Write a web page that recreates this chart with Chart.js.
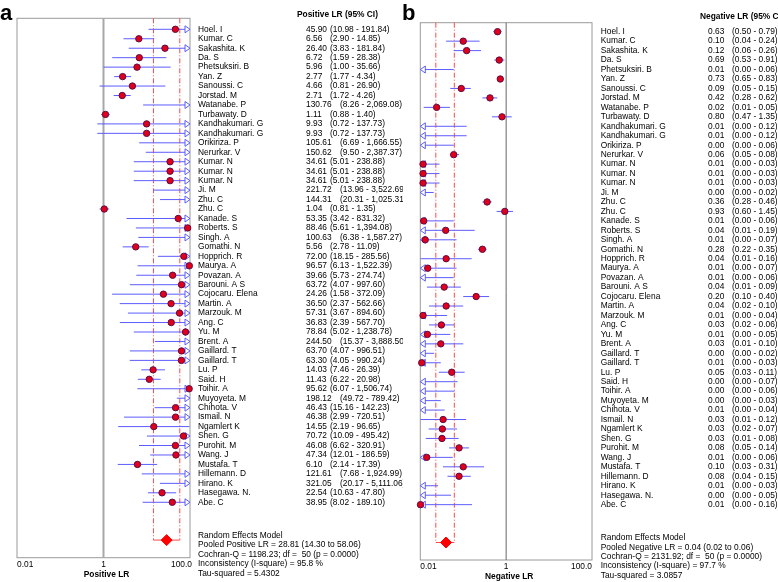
<!DOCTYPE html>
<html>
<head>
<meta charset="utf-8">
<script src="https://cdn.jsdelivr.net/npm/chart.js@4.4.1/dist/chart.umd.min.js"></script>
<style>
  html, body { margin: 0; padding: 0; background: #fff; }
  #wrap { position: relative; width: 778px; height: 582px; overflow: hidden; }
  #boxA { position: absolute; left: 0; top: 0; width: 403px; height: 582px; }
  #boxB { position: absolute; left: 403px; top: 0; width: 375px; height: 582px; background: #fff; }
</style>
</head>
<body>
<div id="wrap">
  <div id="boxA"><canvas id="chartA" width="403" height="582"></canvas></div>
  <div id="boxB"><canvas id="chartB" width="375" height="582"></canvas></div>
</div>
<script>
// Studies (same order in both panels)
const studies = ['Hoel. I', 'Kumar. C', 'Sakashita. K', 'Da. S', 'Phetsuksiri. B', 'Yan. Z', 'Sanoussi. C', 'Jorstad. M',
  'Watanabe. P', 'Turbawaty. D', 'Kandhakumari. G', 'Kandhakumari. G', 'Orikiriza. P', 'Nerurkar. V', 'Kumar. N',
  'Kumar. N', 'Kumar. N', 'Ji. M', 'Zhu. C', 'Zhu. C', 'Kanade. S', 'Roberts. S', 'Singh. A', 'Gomathi. N',
  'Hopprich. R', 'Maurya. A', 'Povazan. A', 'Barouni. A S', 'Cojocaru. Elena', 'Martin. A', 'Marzouk. M', 'Ang. C',
  'Yu. M', 'Brent. A', 'Gaillard. T', 'Gaillard. T', 'Lu. P', 'Said. H', 'Toihir. A', 'Muyoyeta. M', 'Chihota. V',
  'Ismail. N', 'Ngamlert K', 'Shen. G', 'Purohit. M', 'Wang. J', 'Mustafa. T', 'Hillemann. D', 'Hirano. K',
  'Hasegawa. N.', 'Abe. C'];

// Positive LR
const posLR = [45.90, 6.56, 26.40, 6.72, 5.96, 2.77, 4.66, 2.71, 130.76, 1.11, 9.93, 9.93, 105.61, 150.62, 34.61,
  34.61, 34.61, 221.72, 144.31, 1.04, 53.35, 88.46, 100.63, 5.56, 72.00, 96.57, 39.66, 63.72, 24.26, 36.50, 57.31,
  36.83, 78.84, 244.50, 63.70, 63.30, 14.03, 11.43, 95.62, 198.12, 46.43, 46.38, 14.55, 70.72, 46.08, 47.34, 6.10,
  121.61, 321.05, 22.54, 38.95];
const posLo = [10.98, 2.90, 3.83, 1.59, 1.00, 1.77, 0.81, 1.72, 8.26, 0.88, 0.72, 0.72, 6.69, 9.50, 5.01,
  5.01, 5.01, 13.96, 20.31, 0.81, 3.42, 5.61, 6.38, 2.78, 18.15, 6.13, 5.73, 4.07, 1.58, 2.37, 3.67,
  2.39, 5.02, 15.37, 4.07, 4.05, 7.46, 6.22, 6.07, 49.72, 15.16, 2.99, 2.19, 10.09, 6.62, 12.01, 2.14,
  7.68, 20.17, 10.63, 8.02];
const posHi = [191.84, 14.85, 181.84, 28.38, 35.66, 4.34, 26.90, 4.26, 2069.08, 1.40, 137.73, 137.73, 1666.55, 2387.37, 238.88,
  238.88, 238.88, 3522.69, 1025.31, 1.35, 831.32, 1394.08, 1587.27, 11.09, 285.56, 1522.39, 274.74, 997.60, 372.09, 562.66, 894.60,
  567.70, 1238.78, 3888.50, 996.51, 990.24, 26.39, 20.98, 1506.74, 789.42, 142.23, 720.51, 96.65, 495.42, 320.91, 186.59, 17.39,
  1924.99, 5111.06, 47.80, 189.10];
const posPooled = [28.81, 14.30, 58.06];
const posStats = ['Cochran-Q = 1198.23; df =  50 (p = 0.0000)', 'Inconsistency (I-square) = 95.8 %', 'Tau-squared = 5.4302'];

// Negative LR
const negLR = [0.63, 0.10, 0.12, 0.69, 0.0096, 0.73, 0.09, 0.42, 0.024, 0.80, 0.008, 0.008, 0.003, 0.06, 0.0116,
  0.0116, 0.0116, 0.003, 0.36, 0.93, 0.012, 0.039, 0.013, 0.28, 0.040, 0.0149, 0.009, 0.036, 0.20, 0.040, 0.0116,
  0.031, 0.0146, 0.030, 0.004, 0.0108, 0.054, 0.003, 0.003, 0.002, 0.008, 0.034, 0.0326, 0.032, 0.080, 0.0141, 0.10,
  0.08, 0.008, 0.004, 0.0101];
const negLo = [0.50, 0.04, 0.06, 0.53, 0.002, 0.65, 0.05, 0.28, 0.012, 0.47, 0.002, 0.002, 0.001, 0.05, 0.002,
  0.002, 0.002, 0.001, 0.28, 0.60, 0.002, 0.0096, 0.002, 0.22, 0.0101, 0.002, 0.002, 0.0143, 0.10, 0.016, 0.002,
  0.016, 0.002, 0.0096, 0.001, 0.002, 0.027, 0.001, 0.001, 0.001, 0.002, 0.0101, 0.0157, 0.0134, 0.047, 0.002, 0.0338,
  0.043, 0.002, 0.001, 0.002];
const negHi = [0.79, 0.24, 0.26, 0.91, 0.06, 0.83, 0.15, 0.62, 0.049, 1.35, 0.12, 0.12, 0.06, 0.08, 0.028,
  0.028, 0.028, 0.0205, 0.46, 1.45, 0.06, 0.185, 0.07, 0.35, 0.157, 0.07, 0.06, 0.088, 0.40, 0.10, 0.042,
  0.061, 0.05, 0.10, 0.021, 0.03, 0.108, 0.074, 0.063, 0.03, 0.037, 0.117, 0.072, 0.078, 0.136, 0.057, 0.305,
  0.15, 0.026, 0.052, 0.16];
const negPooled = [0.0398, 0.023, 0.062];
const negStats = ['Cochran-Q = 2131.92; df =  50 (p = 0.0000)', 'Inconsistency (I-square) = 97.7 %', 'Tau-squared = 3.0857'];

// Axis
const xTicks = [0.01, 1, 100];
const xTickLabels = ['0.01', '1', '100.0'];

const POOLED_ROW = 54;
const FONT = '"Liberation Sans", Arial, sans-serif';
const TXT = '8.4px ';
const LINE_BLUE = '#5c5cff';

function fmt(v) {
  return v.toLocaleString('en-US', { minimumFractionDigits: 2, maximumFractionDigits: 2 });
}

function forestPlugin(p) {
  return {
    id: 'forest',
    beforeDatasetsDraw(chart) {
      const { ctx, chartArea: a, scales: { x, y } } = chart;
      ctx.save();
      // frame
      ctx.strokeStyle = '#9a9a9a';
      ctx.lineWidth = 1;
      ctx.strokeRect(a.left, a.top, a.right - a.left, a.bottom - a.top);
      // line of no effect
      const x1 = x.getPixelForValue(1);
      ctx.strokeStyle = p.nullColor;
      ctx.lineWidth = p.nullWidth;
      ctx.beginPath(); ctx.moveTo(x1, a.top); ctx.lineTo(x1, a.bottom); ctx.stroke();
      // pooled CI bracket
      const py = y.getPixelForValue(POOLED_ROW);
      const pl = x.getPixelForValue(p.pooled[1]), ph = x.getPixelForValue(p.pooled[2]);
      ctx.strokeStyle = '#ff4a4a';
      ctx.lineWidth = 1;
      ctx.setLineDash([5, 2, 1, 2]);
      ctx.beginPath();
      ctx.moveTo(pl, a.top); ctx.lineTo(pl, py);
      ctx.moveTo(ph, a.top); ctx.lineTo(ph, py);
      ctx.stroke();
      ctx.setLineDash([]);
      ctx.beginPath(); ctx.moveTo(pl, py); ctx.lineTo(ph, py); ctx.stroke();
      // study CIs
      ctx.strokeStyle = LINE_BLUE;
      ctx.lineWidth = 1;
      p.lo.forEach((lo, i) => {
        const hi = p.hi[i];
        const yy = y.getPixelForValue(i);
        const offLeft = lo < x.min, offRight = hi > x.max;
        const x0 = offLeft ? a.left + 5 : x.getPixelForValue(lo);
        const x2 = offRight ? a.right - 5 : x.getPixelForValue(hi);
        ctx.beginPath(); ctx.moveTo(x0, yy); ctx.lineTo(x2, yy); ctx.stroke();
        if (offRight) {
          ctx.beginPath();
          ctx.moveTo(a.right - 5, yy - 3.5); ctx.lineTo(a.right, yy); ctx.lineTo(a.right - 5, yy + 3.5); ctx.closePath();
          ctx.stroke();
        }
        if (offLeft) {
          ctx.beginPath();
          ctx.moveTo(a.left + 5, yy - 3.5); ctx.lineTo(a.left, yy); ctx.lineTo(a.left + 5, yy + 3.5); ctx.closePath();
          ctx.stroke();
        }
      });
      ctx.restore();
    },
    afterDraw(chart) {
      const { ctx, chartArea: a, scales: { x, y } } = chart;
      ctx.save();
      ctx.fillStyle = '#000';
      // panel letter
      ctx.font = 'bold 22px ' + FONT;
      ctx.textBaseline = 'alphabetic';
      ctx.fillText(p.letter, p.letterX, 20);
      ctx.textBaseline = 'middle';
      // header
      ctx.font = 'bold ' + TXT + FONT;
      ctx.fillText(p.header, a.right + p.headerDx, p.headerY);
      // study rows
      ctx.font = TXT + FONT;
      studies.forEach((name, i) => {
        const yy = y.getPixelForValue(i);
        ctx.fillText(name, a.right + p.nameDx, yy);
        const v = p.val[i];
        ctx.fillText(fmt(v), a.right + 116, yy);
        const ciX = v >= 99.995 ? 150 : 140;
        ctx.fillText('(' + fmt(p.lo[i]) + ' - ' + fmt(p.hi[i]) + ')', a.right + ciX, yy);
      });
      // summary block
      const summary = ['Random Effects Model',
        'Pooled ' + p.measure + ' = ' + fmt(p.pooled[0]) + ' (' + fmt(p.pooled[1]) + ' to ' + fmt(p.pooled[2]) + ')']
        .concat(p.stats);
      summary.forEach((s, i) => {
        ctx.fillText(s, a.right + p.nameDx, y.getPixelForValue(POOLED_ROW - 0.5 + i));
      });
      // x tick labels
      xTicks.forEach((t, i) => {
        const tx = x.getPixelForValue(t);
        ctx.textAlign = i === 0 ? 'left' : (i === xTicks.length - 1 ? 'right' : 'center');
        ctx.fillText(xTickLabels[i], i === xTicks.length - 1 ? tx + p.lastTickDx : tx, a.bottom + 6.5);
      });
      // axis title
      ctx.textAlign = 'center';
      ctx.font = 'bold ' + TXT + FONT;
      ctx.fillText(p.measure, (a.left + a.right) / 2 + 3, a.bottom + 16.5);
      ctx.restore();
    }
  };
}

function makeForest(canvasId, p) {
  const pts = [];
  p.val.forEach((v, i) => {
    if (v >= 0.01 && v <= 100) pts.push({ x: v, y: i });
  });
  return new Chart(document.getElementById(canvasId), {
    type: 'scatter',
    data: {
      datasets: [
        { data: pts, pointRadius: 3.2, pointBackgroundColor: '#e0001b', pointBorderColor: '#5e0d40',
          pointBorderWidth: 1, clip: false },
        { data: [{ x: p.pooled[0], y: POOLED_ROW }], pointStyle: 'rectRot', pointRadius: 5.5,
          pointBackgroundColor: '#ff0000', pointBorderColor: '#ff0000', clip: false }
      ]
    },
    options: {
      responsive: false,
      animation: false,
      events: [],
      layout: { padding: p.padding },
      plugins: { legend: { display: false }, tooltip: { enabled: false } },
      scales: {
        x: { type: 'logarithmic', min: 0.01, max: 100, display: false },
        y: { type: 'linear', min: p.yMin, max: p.yMax, reverse: true, display: false }
      }
    },
    plugins: [forestPlugin(p)]
  });
}

makeForest('chartA', {
  letter: 'a', letterX: 0, header: 'Positive LR (95% CI)', headerDx: 107, headerY: 15,
  measure: 'Positive LR', val: posLR, lo: posLo, hi: posHi, pooled: posPooled, stats: posStats,
  nameDx: 8, lastTickDx: 2, nullColor: '#a8a8a8', nullWidth: 2,
  padding: { left: 17, right: 213, top: 18.3, bottom: 24.3 }, yMin: -1.163, yMax: 55.86
});

makeForest('chartB', {
  letter: 'b', letterX: -1, header: 'Negative LR (95% CI)', headerDx: 108, headerY: 16.7,
  measure: 'Negative LR', val: negLR, lo: negLo, hi: negHi, pooled: negPooled, stats: negStats,
  nameDx: 8.7, lastTickDx: 0, nullColor: '#666666', nullWidth: 1,
  padding: { left: 17.3, right: 186, top: 22.7, bottom: 22 }, yMin: -0.951, yMax: 55.85
});
</script>
</body>
</html>
